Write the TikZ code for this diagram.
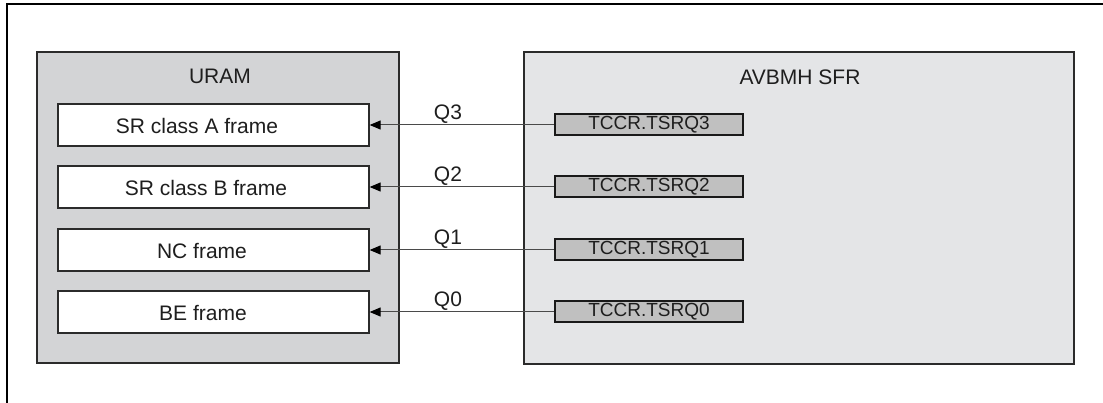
\documentclass[tikz,border=0pt]{standalone}
\usepackage{fontspec}
\setmainfont{Liberation Sans}
\usetikzlibrary{arrows.meta}
\definecolor{uramfill}{HTML}{D3D4D6}
\definecolor{sfrfill}{HTML}{E4E5E7}
\definecolor{regfill}{HTML}{C0C0C0}
\definecolor{ink}{HTML}{1E1E1E}
\definecolor{edge}{HTML}{2B2B2B}
\definecolor{wire}{HTML}{4A4A4A}
\tikzset{
  bigfont/.style={font=\fontsize{21}{25}\selectfont, text=ink},
  regfont/.style={font=\fontsize{19}{23}\selectfont, text=ink},
  container/.style={draw=edge, line width=1.5pt, inner sep=0pt},
  framebox/.style={draw=edge, fill=white, line width=1.3pt, minimum width=311pt, minimum height=42pt, inner sep=0pt},
  regbox/.style={draw=black!90, fill=regfill, line width=2pt, minimum width=188pt, minimum height=21pt, inner sep=0pt, regfont},
  qarrow/.style={draw=wire, line width=1pt, -{Triangle[length=11pt,width=9pt,color=black]}},
  qlabel/.style={anchor=base, yshift=5pt, bigfont}
}
\begin{document}
\begin{tikzpicture}[x=1pt,y=-1pt]
\useasboundingbox (0,0) rectangle (1103,403);
\draw[line width=2pt, black] (7,403) -- (7,4) -- (1103,4);
\node[container, fill=uramfill, minimum width=362pt, minimum height=311pt] (uram) at (218,207.5) {};
\node[bigfont] (uramlabel) at (220,76) {URAM};
\node[container, fill=sfrfill, minimum width=550pt, minimum height=312pt] (sfr) at (799,208) {};
\node[bigfont] (sfrlabel) at (800,77) {AVBMH SFR};
\node[framebox] (f3) at (213.5,125) {};
\node[framebox] (f2) at (213.5,187) {};
\node[framebox] (f1) at (213.5,250) {};
\node[framebox] (f0) at (213.5,312) {};
\node[bigfont] (f3t) at (197,126) {SR class A frame};
\node[bigfont] (f2t) at (206,188) {SR class B frame};
\node[bigfont] (f1t) at (202,251) {NC frame};
\node[bigfont] (f0t) at (203,313) {BE frame};
\node[regbox] (r3) at (649,125) {TCCR.TSRQ3};
\node[regbox] (r2) at (649,187) {TCCR.TSRQ2};
\node[regbox] (r1) at (649,250) {TCCR.TSRQ1};
\node[regbox] (r0) at (649,312) {TCCR.TSRQ0};
\draw[qarrow] (r3.west) -- (f3.east) node[pos=0.575, qlabel] (q3) {Q3};
\draw[qarrow] (r2.west) -- (f2.east) node[pos=0.575, qlabel] (q2) {Q2};
\draw[qarrow] (r1.west) -- (f1.east) node[pos=0.575, qlabel] (q1) {Q1};
\draw[qarrow] (r0.west) -- (f0.east) node[pos=0.575, qlabel] (q0) {Q0};
\end{tikzpicture}
\end{document}
